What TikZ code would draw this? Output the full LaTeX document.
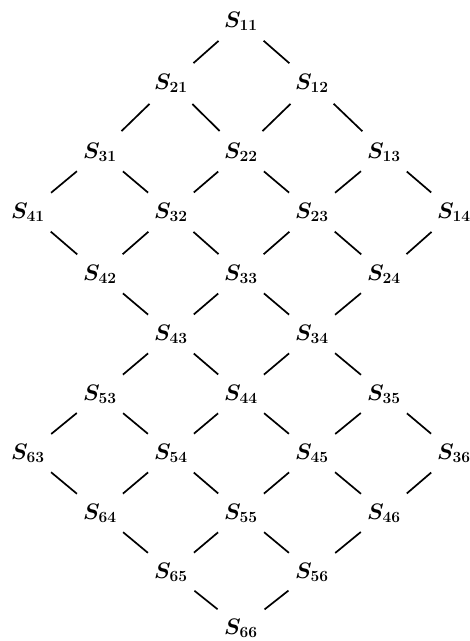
\documentclass[tikz,border=0pt]{standalone}
\begin{document}
\begin{tikzpicture}[x=1pt,y=1pt,
  lbl/.style={inner sep=0pt,font=\huge\boldmath,scale=1.08},
  link/.style={line width=1.7pt,shorten >=30pt,shorten <=30pt}]
\useasboundingbox (0,0) rectangle (470,-641);
% columns: 28 100 171 241 312 384 455
% rows: 21 83 152 212 274 334 394 453 513 573 628
\node[lbl] (s11) at (241,-21) {$S_{11}$};
\node[lbl] (s21) at (171,-83) {$S_{21}$};
\node[lbl] (s12) at (312,-83) {$S_{12}$};
\node[lbl] (s31) at (100,-152) {$S_{31}$};
\node[lbl] (s22) at (241,-152) {$S_{22}$};
\node[lbl] (s13) at (384,-152) {$S_{13}$};
\node[lbl] (s41) at (28,-212) {$S_{41}$};
\node[lbl] (s32) at (171,-212) {$S_{32}$};
\node[lbl] (s23) at (312,-212) {$S_{23}$};
\node[lbl] (s14) at (454,-212) {$S_{14}$};
\node[lbl] (s42) at (100,-274) {$S_{42}$};
\node[lbl] (s33) at (241,-274) {$S_{33}$};
\node[lbl] (s24) at (384,-274) {$S_{24}$};
\node[lbl] (s43) at (171,-334) {$S_{43}$};
\node[lbl] (s34) at (312,-334) {$S_{34}$};
\node[lbl] (s53) at (100,-394) {$S_{53}$};
\node[lbl] (s44) at (241,-394) {$S_{44}$};
\node[lbl] (s35) at (384,-394) {$S_{35}$};
\node[lbl] (s63) at (28,-453) {$S_{63}$};
\node[lbl] (s54) at (171,-453) {$S_{54}$};
\node[lbl] (s45) at (312,-453) {$S_{45}$};
\node[lbl] (s36) at (454,-453) {$S_{36}$};
\node[lbl] (s64) at (100,-513) {$S_{64}$};
\node[lbl] (s55) at (241,-513) {$S_{55}$};
\node[lbl] (s46) at (384,-513) {$S_{46}$};
\node[lbl] (s65) at (171,-572) {$S_{65}$};
\node[lbl] (s56) at (312,-572) {$S_{56}$};
\node[lbl] (s66) at (241,-628) {$S_{66}$};
\foreach \a/\b in {s11/s21,s11/s12,s21/s31,s21/s22,s12/s22,s12/s13,
  s31/s41,s31/s32,s22/s32,s22/s23,s13/s23,s13/s14,
  s41/s42,s32/s42,s32/s33,s23/s33,s23/s24,s14/s24,
  s42/s43,s33/s43,s33/s34,s24/s34,
  s43/s53,s43/s44,s34/s44,s34/s35,
  s53/s63,s53/s54,s44/s54,s44/s45,s35/s45,s35/s36,
  s63/s64,s54/s64,s54/s55,s45/s55,s45/s46,s36/s46,
  s64/s65,s55/s65,s55/s56,s46/s56,
  s65/s66,s56/s66}
  \draw[link] (\a.center) -- (\b.center);
\end{tikzpicture}
\end{document}
